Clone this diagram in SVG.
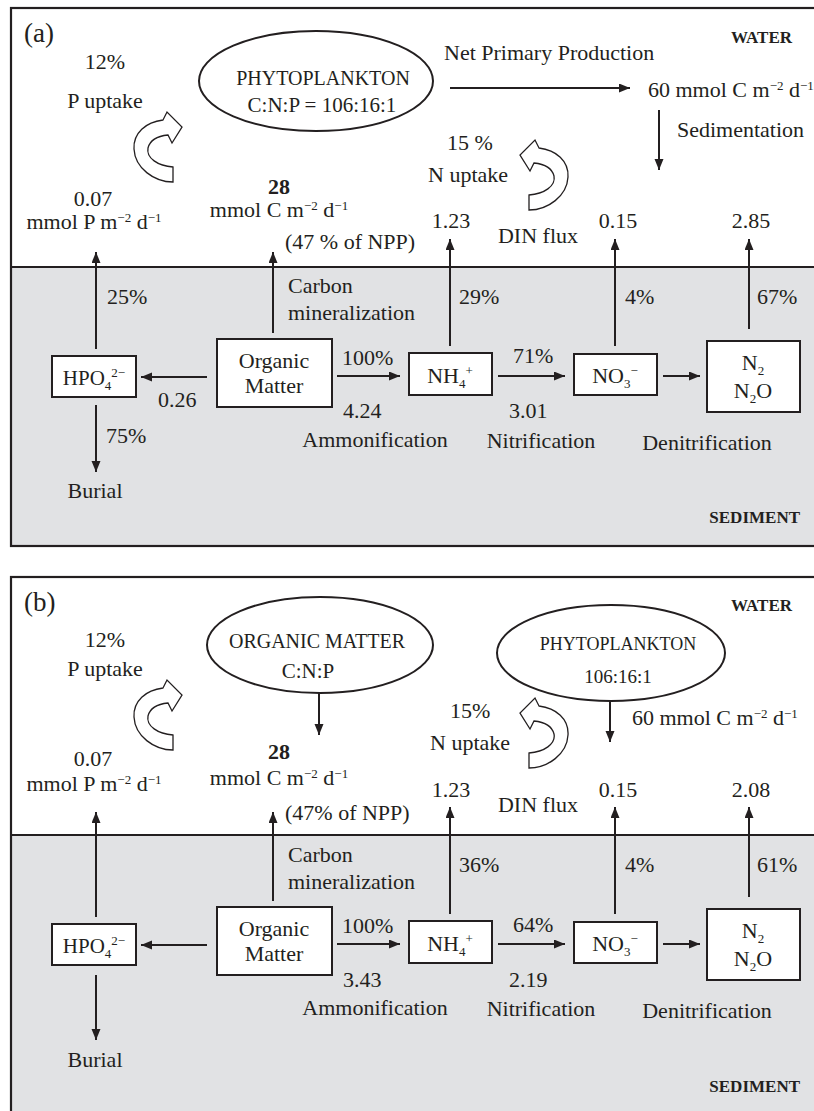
<svg xmlns="http://www.w3.org/2000/svg" xmlns:xlink="http://www.w3.org/1999/xlink" width="814" height="1111" viewBox="0 0 814 1111">
<style>
text{font-family:"Liberation Serif","Times New Roman",serif;font-size:22px;fill:#231f20}
.b{font-weight:bold;font-size:17px}
.m{text-anchor:middle}
.e{text-anchor:end}
.sm{font-size:13px}
.ln{stroke:#231f20;stroke-width:2;fill:none}
.ar{stroke:#231f20;stroke-width:2;fill:none;marker-end:url(#ah)}
.box{fill:#fff;stroke:#231f20;stroke-width:2}
.frame{fill:none;stroke:#231f20;stroke-width:2.2}
.sed{fill:#e1e2e4}
.curl{fill:#fff;stroke:#231f20;stroke-width:1.3}
</style>
<defs>
<marker id="ah" markerUnits="userSpaceOnUse" markerWidth="12" markerHeight="10" refX="11" refY="4.5" orient="auto">
<path d="M0,0 L11,4.5 L0,9 Z" fill="#231f20"/>
</marker>
<path id="curlShape" d="M173,167 C158,166 146,158 148,148 C150,140 158,136 168,135 L172,143 L182,127 L167,112 L163,120 C146,122 133,133 134,149 C135,168 154,182 173,182 Z"/>
</defs>

<!-- Panel (a) background -->
<g id="panelA-frame">
<rect x="11" y="8" width="810" height="538" fill="#fff"/>
<rect class="sed" x="11" y="267" width="810" height="279"/>
<line class="ln" x1="11" y1="267" x2="821" y2="267"/>
<rect class="frame" x="11" y="8" width="810" height="538"/>
<text x="24" y="42" style="font-size:27px">(a)</text>
<text class="b e" x="792" y="43">WATER</text>
<text class="b e" x="800" y="523">SEDIMENT</text>
</g>

<!-- Panel (b) background -->
<g id="panelB-frame">
<rect x="11" y="577" width="810" height="545" fill="#fff"/>
<rect class="sed" x="11" y="835" width="810" height="287"/>
<line class="ln" x1="11" y1="835" x2="821" y2="835"/>
<rect class="frame" x="11" y="577" width="810" height="545"/>
<text x="24" y="611" style="font-size:27px">(b)</text>
<text class="b e" x="792" y="611">WATER</text>
<text class="b e" x="800" y="1092">SEDIMENT</text>
</g>

<!-- Connectors -->
<g id="connectors">
<!-- panel a -->
<line class="ar" x1="96" y1="349" x2="96" y2="252"/>
<line class="ar" x1="273" y1="333" x2="273" y2="252"/>
<line class="ar" x1="450" y1="346" x2="450" y2="239"/>
<line class="ar" x1="615" y1="346" x2="615" y2="239"/>
<line class="ar" x1="749" y1="329" x2="749" y2="239"/>
<line class="ar" x1="207" y1="377" x2="141" y2="377"/>
<line class="ar" x1="337" y1="376" x2="400" y2="376"/>
<line class="ar" x1="498" y1="376" x2="565" y2="376"/>
<line class="ar" x1="663" y1="376" x2="700" y2="376"/>
<line class="ar" x1="96" y1="405" x2="96" y2="472"/>
<line class="ar" x1="450" y1="88" x2="630" y2="88"/>
<line class="ar" x1="659" y1="110" x2="659" y2="170"/>
<use xlink:href="#curlShape" class="curl"/>
<use xlink:href="#curlShape" class="curl" transform="translate(702,28) scale(-1,1)"/>
<!-- panel b -->
<line class="ar" x1="96" y1="917" x2="96" y2="812"/>
<line class="ar" x1="273" y1="901" x2="273" y2="812"/>
<line class="ar" x1="450" y1="914" x2="450" y2="807"/>
<line class="ar" x1="615" y1="914" x2="615" y2="807"/>
<line class="ar" x1="749" y1="897" x2="749" y2="807"/>
<line class="ar" x1="207" y1="945" x2="141" y2="945"/>
<line class="ar" x1="337" y1="944" x2="400" y2="944"/>
<line class="ar" x1="498" y1="944" x2="565" y2="944"/>
<line class="ar" x1="663" y1="944" x2="700" y2="944"/>
<line class="ar" x1="96" y1="975" x2="96" y2="1040"/>
<line class="ar" x1="319" y1="693" x2="319" y2="735"/>
<line class="ar" x1="610" y1="702" x2="610" y2="742"/>
<use xlink:href="#curlShape" class="curl" transform="translate(0,568)"/>
<use xlink:href="#curlShape" class="curl" transform="translate(702,586) scale(-1,1)"/>
</g>

<!-- Panel (a) nodes -->
<g id="a-phyto">
<ellipse cx="316" cy="81" rx="117" ry="50" fill="#fff" stroke="#231f20" stroke-width="2"/>
<text class="m" x="323" y="85" style="font-size:20px">PHYTOPLANKTON</text>
<text class="m" x="322" y="112" style="font-size:21px">C:N:P = 106:16:1</text>
</g>
<g id="a-hpo4">
<rect class="box" x="52" y="356" width="84" height="41"/>
<text class="m" x="94" y="385" style="font-size:21px">HPO<tspan class="sm" dy="5">4</tspan><tspan class="sm" dy="-13">2−</tspan></text>
</g>
<g id="a-om">
<rect class="box" x="217" y="339" width="115" height="68"/>
<text class="m" x="274" y="368">Organic</text>
<text class="m" x="274" y="393">Matter</text>
</g>
<g id="a-nh4">
<rect class="box" x="409" y="353" width="83" height="42"/>
<text class="m" x="450" y="383">NH<tspan class="sm" dy="5">4</tspan><tspan class="sm" dy="-13">+</tspan></text>
</g>
<g id="a-no3">
<rect class="box" x="574" y="354" width="83" height="41"/>
<text class="m" x="615" y="383">NO<tspan class="sm" dy="5">3</tspan><tspan class="sm" dy="-13">−</tspan></text>
</g>
<g id="a-n2">
<rect class="box" x="707" y="341" width="93" height="71"/>
<text class="m" x="753" y="370">N<tspan class="sm" dy="5">2</tspan></text>
<text class="m" x="753" y="398">N<tspan class="sm" dy="5">2</tspan><tspan dy="-5">O</tspan></text>
</g>
<g id="a-labels">
<text class="m" x="105" y="69">12%</text>
<text class="m" x="105" y="108">P uptake</text>
<text class="m" x="93" y="206">0.07</text>
<text class="m" x="94" y="229">mmol P m<tspan class="sm" dy="-7">−2</tspan><tspan dy="7"> d</tspan><tspan class="sm" dy="-7">−1</tspan></text>
<text class="m" x="279" y="194" style="font-weight:bold">28</text>
<text class="m" x="279" y="217">mmol C m<tspan class="sm" dy="-7">−2</tspan><tspan dy="7"> d</tspan><tspan class="sm" dy="-7">−1</tspan></text>
<text x="285" y="249">(47 % of NPP)</text>
<text x="444" y="60">Net Primary Production</text>
<text x="648" y="97">60 mmol C m<tspan class="sm" dy="-7">−2</tspan><tspan dy="7"> d</tspan><tspan class="sm" dy="-7">−1</tspan></text>
<text x="677" y="137">Sedimentation</text>
<text x="447" y="150">15 %</text>
<text x="428" y="182">N uptake</text>
<text class="m" x="451" y="228">1.23</text>
<text class="m" x="538" y="243">DIN flux</text>
<text class="m" x="618" y="228">0.15</text>
<text class="m" x="751" y="228">2.85</text>
<text x="107" y="304">25%</text>
<text x="288" y="293">Carbon</text>
<text x="288" y="320">mineralization</text>
<text x="459" y="304">29%</text>
<text x="625" y="304">4%</text>
<text x="757" y="304">67%</text>
<text x="342" y="365">100%</text>
<text x="513" y="363">71%</text>
<text x="158" y="407">0.26</text>
<text x="343" y="418">4.24</text>
<text x="509" y="418">3.01</text>
<text class="m" x="375" y="447">Ammonification</text>
<text class="m" x="541" y="448">Nitrification</text>
<text class="m" x="707" y="450">Denitrification</text>
<text x="106" y="443">75%</text>
<text class="m" x="95" y="498">Burial</text>
</g>

<!-- Panel (b) nodes -->
<g id="b-om-ellipse">
<ellipse cx="320" cy="645" rx="113" ry="48" fill="#fff" stroke="#231f20" stroke-width="2"/>
<text class="m" x="317" y="648" style="font-size:20px">ORGANIC MATTER</text>
<text class="m" x="308" y="678" style="font-size:21px">C:N:P</text>
</g>
<g id="b-phyto">
<ellipse cx="611" cy="653" rx="114" ry="48" fill="#fff" stroke="#231f20" stroke-width="2"/>
<text class="m" x="618" y="650" style="font-size:18px">PHYTOPLANKTON</text>
<text class="m" x="618" y="683" style="font-size:19px">106:16:1</text>
</g>
<g id="b-hpo4">
<rect class="box" x="52" y="924" width="84" height="41"/>
<text class="m" x="94" y="953" style="font-size:21px">HPO<tspan class="sm" dy="5">4</tspan><tspan class="sm" dy="-13">2−</tspan></text>
</g>
<g id="b-om">
<rect class="box" x="217" y="907" width="115" height="68"/>
<text class="m" x="274" y="936">Organic</text>
<text class="m" x="274" y="961">Matter</text>
</g>
<g id="b-nh4">
<rect class="box" x="409" y="921" width="83" height="42"/>
<text class="m" x="450" y="951">NH<tspan class="sm" dy="5">4</tspan><tspan class="sm" dy="-13">+</tspan></text>
</g>
<g id="b-no3">
<rect class="box" x="574" y="922" width="83" height="41"/>
<text class="m" x="615" y="951">NO<tspan class="sm" dy="5">3</tspan><tspan class="sm" dy="-13">−</tspan></text>
</g>
<g id="b-n2">
<rect class="box" x="707" y="909" width="93" height="71"/>
<text class="m" x="753" y="938">N<tspan class="sm" dy="5">2</tspan></text>
<text class="m" x="753" y="966">N<tspan class="sm" dy="5">2</tspan><tspan dy="-5">O</tspan></text>
</g>
<g id="b-labels">
<text class="m" x="105" y="647">12%</text>
<text class="m" x="105" y="676">P uptake</text>
<text class="m" x="93" y="766">0.07</text>
<text class="m" x="94" y="791">mmol P m<tspan class="sm" dy="-7">−2</tspan><tspan dy="7"> d</tspan><tspan class="sm" dy="-7">−1</tspan></text>
<text class="m" x="279" y="759" style="font-weight:bold">28</text>
<text class="m" x="279" y="785">mmol C m<tspan class="sm" dy="-7">−2</tspan><tspan dy="7"> d</tspan><tspan class="sm" dy="-7">−1</tspan></text>
<text x="285" y="820">(47% of NPP)</text>
<text x="632" y="725">60 mmol C m<tspan class="sm" dy="-7">−2</tspan><tspan dy="7"> d</tspan><tspan class="sm" dy="-7">−1</tspan></text>
<text x="450" y="718">15%</text>
<text x="430" y="750">N uptake</text>
<text class="m" x="451" y="797">1.23</text>
<text class="m" x="538" y="812">DIN flux</text>
<text class="m" x="618" y="797">0.15</text>
<text class="m" x="751" y="797">2.08</text>
<text x="288" y="862">Carbon</text>
<text x="288" y="889">mineralization</text>
<text x="459" y="872">36%</text>
<text x="625" y="872">4%</text>
<text x="757" y="872">61%</text>
<text x="342" y="933">100%</text>
<text x="513" y="932">64%</text>
<text x="343" y="987">3.43</text>
<text x="509" y="987">2.19</text>
<text class="m" x="375" y="1015">Ammonification</text>
<text class="m" x="541" y="1016">Nitrification</text>
<text class="m" x="707" y="1018">Denitrification</text>
<text class="m" x="95" y="1067">Burial</text>
</g>
</svg>
